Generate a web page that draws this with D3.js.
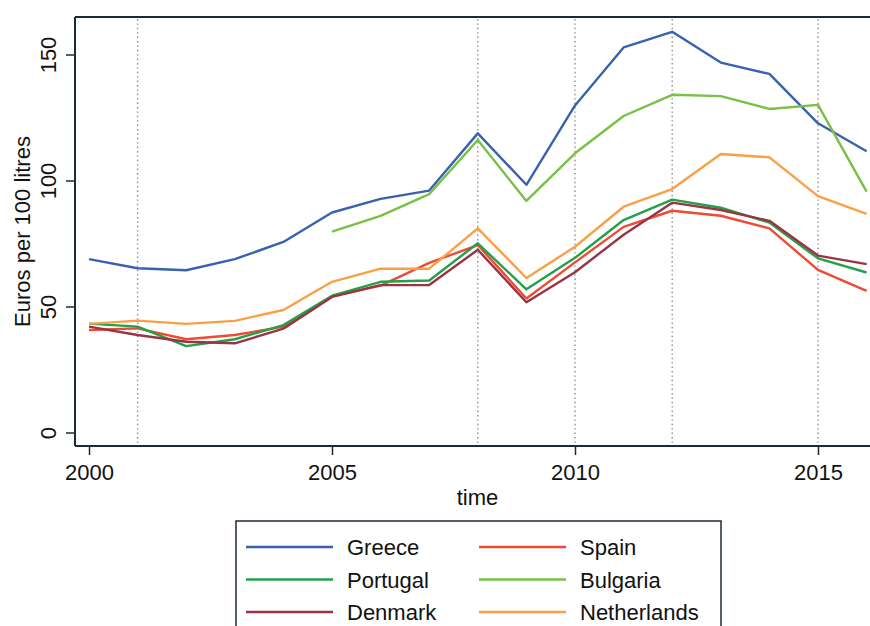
<!DOCTYPE html>
<html>
<head>
<meta charset="utf-8">
<script src="https://cdn.jsdelivr.net/npm/d3@7"></script>
<style>
  body { margin: 0; background: #fff; }
  svg { font-family: "Liberation Sans", Arial, Helvetica, sans-serif; }
</style>
</head>
<body>
<div id="chart"></div>
<script>
// years on the x axis
const years = d3.range(2000, 2017);

// price in euros per 100 litres
const greece      = [68.8, 65.2, 64.4, 68.8, 75.6, 87.3, 92.7, 96.0, 118.7, 98.3, 129.8, 152.8, 159.0, 146.8, 142.3, 122.7, 111.6];
const spain       = [40.7, 41.3, 37.0, 38.7, 42.0, 54.0, 58.3, 67.3, 74.4, 53.2, 67.5, 81.6, 88.0, 86.0, 81.0, 64.5, 56.2];
const portugal    = [43.2, 42.0, 34.3, 37.0, 42.6, 54.3, 59.8, 60.3, 75.1, 56.8, 69.3, 84.3, 92.4, 89.2, 83.3, 69.1, 63.5];
const bulgaria    = [null, null, null, null, null, 79.7, 86.0, 94.6, 116.1, 91.9, 110.8, 125.6, 134.0, 133.5, 128.4, 130.0, 95.6];
const denmark     = [42.0, 38.7, 36.0, 35.4, 41.2, 53.8, 58.5, 58.5, 72.5, 51.7, 63.6, 78.5, 91.2, 88.3, 84.0, 70.2, 66.8];
const netherlands = [43.1, 44.4, 43.1, 44.3, 48.6, 59.8, 65.0, 65.0, 81.0, 61.3, 73.7, 89.6, 96.6, 110.5, 109.2, 93.8, 86.8];

const xTicks = [2000, 2005, 2010, 2015];
const yTicks = [0, 50, 100, 150];
const refYears = [2001, 2008, 2010, 2012, 2015];

const series = [
  {name: "Greece",      values: greece,      color: "#3862b0"},
  {name: "Spain",       values: spain,       color: "#ef4a34"},
  {name: "Portugal",    values: portugal,    color: "#23a049"},
  {name: "Bulgaria",    values: bulgaria,    color: "#78c046"},
  {name: "Denmark",     values: denmark,     color: "#9a3343"},
  {name: "Netherlands", values: netherlands, color: "#f9a047"}
];

const width = 870, height = 626;
const axisColor = "#1c2a38";

const plotLeft = 75, plotTop = 17, plotBottom = 446, plotRight = 870;

const xScale = d3.scaleLinear().domain([2000, 2016]).range([89, 866.6]);
const yScale = d3.scaleLinear().domain([0, 150]).range([432.5, 54.5]);

const svg = d3.select("#chart").append("svg")
  .attr("width", width)
  .attr("height", height);

// dotted reference lines
svg.append("g")
  .selectAll("line")
  .data(refYears)
  .enter().append("line")
    .attr("x1", d => xScale(d))
    .attr("x2", d => xScale(d))
    .attr("y1", plotTop + 2)
    .attr("y2", plotBottom - 2)
    .attr("stroke", "#8a8a8a")
    .attr("stroke-width", 1.4)
    .attr("stroke-dasharray", "1.4,3");

// series lines
let line = d3.line()
  .defined(d => d.v !== null)
  .x(d => xScale(d.year))
  .y(d => yScale(d.v));

svg.append("g")
  .selectAll("path")
  .data(series)
  .enter().append("path")
    .attr("fill", "none")
    .attr("stroke", d => d.color)
    .attr("stroke-width", 2.4)
    .attr("stroke-linejoin", "round")
    .attr("d", d => line(d.values.map((v, i) => ({year: years[i], v: v}))));

// frame: top line, left axis, bottom axis
svg.append("line")
  .attr("x1", plotLeft).attr("x2", plotRight)
  .attr("y1", plotTop).attr("y2", plotTop)
  .attr("stroke", axisColor).attr("stroke-width", 2);

// y axis
let yAxis = d3.axisLeft(yScale).tickValues(yTicks).tickSize(9).tickPadding(10);
let yG = svg.append("g")
  .attr("transform", "translate(" + plotLeft + ",0)")
  .call(yAxis);
yG.select(".domain")
  .attr("d", "M0," + plotTop + "V" + plotBottom)
  .attr("stroke", axisColor).attr("stroke-width", 2);
yG.selectAll(".tick line").attr("stroke", axisColor).attr("stroke-width", 1.5);
yG.selectAll(".tick text")
  .attr("font-size", 22)
  .attr("fill", "#111")
  .attr("text-anchor", "middle")
  .attr("x", 0).attr("dy", 0)
  .attr("transform", "translate(-19.5,0) rotate(-90)");

// x axis
let xAxis = d3.axisBottom(xScale).tickValues(xTicks).tickFormat(d3.format("d")).tickSize(9).tickPadding(10);
let xG = svg.append("g")
  .attr("transform", "translate(0," + plotBottom + ")")
  .call(xAxis);
xG.select(".domain")
  .attr("d", "M" + plotLeft + ",0H" + plotRight)
  .attr("stroke", axisColor).attr("stroke-width", 2);
xG.selectAll(".tick line").attr("stroke", axisColor).attr("stroke-width", 1.5);
xG.selectAll(".tick text")
  .attr("font-size", 22)
  .attr("fill", "#111")
  .attr("y", 34).attr("dy", 0);

// axis titles
svg.append("text")
  .attr("x", (plotLeft + plotRight) / 2 + 5)
  .attr("y", 505)
  .attr("text-anchor", "middle")
  .attr("font-size", 22)
  .attr("fill", "#111")
  .text("time");

svg.append("text")
  .attr("transform", "translate(29.5," + ((plotTop + plotBottom) / 2) + ") rotate(-90)")
  .attr("text-anchor", "middle")
  .attr("font-size", 22)
  .attr("fill", "#111")
  .text("Euros per 100 litres");

// legend
let legend = svg.append("g");
legend.append("rect")
  .attr("x", 236).attr("y", 521)
  .attr("width", 485).attr("height", 120)
  .attr("fill", "#fff")
  .attr("stroke", axisColor)
  .attr("stroke-width", 1.5);

let item = legend.selectAll("g.item")
  .data(series)
  .enter().append("g")
    .attr("class", "item")
    .attr("transform", (d, i) => "translate(" + (i % 2 === 0 ? 246 : 479) + "," + (547 + Math.floor(i / 2) * 32.5) + ")");

item.append("line")
  .attr("x1", 0).attr("x2", 87)
  .attr("stroke", d => d.color)
  .attr("stroke-width", 2.4);

item.append("text")
  .attr("x", 101)
  .attr("y", 8)
  .attr("font-size", 22)
  .attr("fill", "#111")
  .text(d => d.name);
</script>
</body>
</html>
